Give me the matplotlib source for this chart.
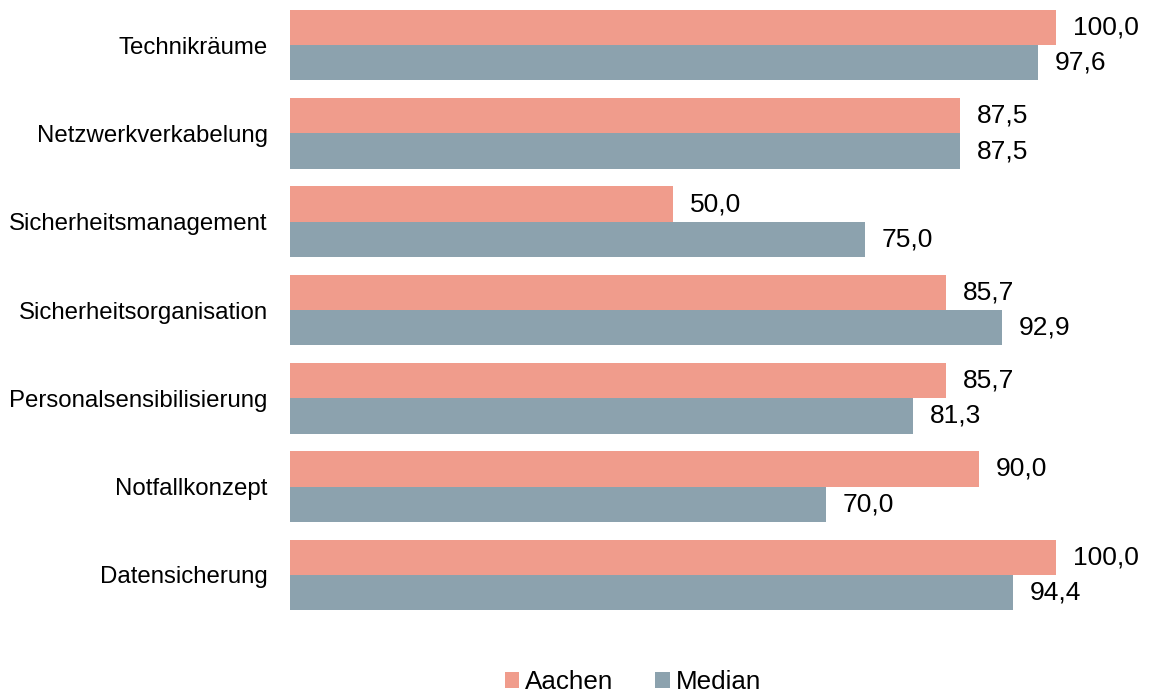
import matplotlib
matplotlib.use('Agg')
import matplotlib.pyplot as plt
import numpy as np

# === Data ===
categories = ["Technikräume", "Netzwerkverkabelung", "Sicherheitsmanagement",
              "Sicherheitsorganisation", "Personalsensibilisierung",
              "Notfallkonzept", "Datensicherung"]
aachen = [100.0, 87.5, 50.0, 85.7, 85.7, 90.0, 100.0]
median = [97.6, 87.5, 75.0, 92.9, 81.3, 70.0, 94.4]

col_aachen = "#F09C8C"
col_median = "#8CA2AE"

plt.rcParams['font.family'] = ['Liberation Sans', 'DejaVu Sans']

fig = plt.figure(figsize=(11.51, 6.95), dpi=100)
ax = fig.add_axes([290 / 1151, 1 - 619 / 695, (1056 - 290) / 1151, 618 / 695])

y = np.arange(len(categories))
h = 0.4
bars_a = ax.barh(y - h / 2, aachen, height=h, color=col_aachen, label="Aachen")
bars_m = ax.barh(y + h / 2, median, height=h, color=col_median, label="Median")

# value labels right of each bar
for bars, vals in ((bars_a, aachen), (bars_m, median)):
    for b, v in zip(bars, vals):
        ax.annotate(f"{v:.1f}".replace(".", ","),
                    (b.get_width(), b.get_y() + b.get_height() / 2),
                    xytext=(12, 0), textcoords="offset points",
                    ha="left", va="center", fontsize=19, clip_on=False)

ax.set_xlim(0, 100)
ax.set_ylim(len(categories) - 0.5, -0.5)
ax.set_yticks(y)
ax.set_yticklabels(categories, fontsize=17.3)
ax.tick_params(axis='y', length=0, pad=16)
ax.set_xticks([])
for s in ax.spines.values():
    s.set_visible(False)

fig.legend(handles=[bars_a, bars_m], loc="center", bbox_to_anchor=(633 / 1151, 1 - 682 / 695),
           ncol=2, frameon=False, fontsize=18.7, handlelength=0.55, handleheight=0.55,
           handletextpad=0.25, columnspacing=1.6, borderpad=0)

fig.savefig("out.png", dpi=100)
